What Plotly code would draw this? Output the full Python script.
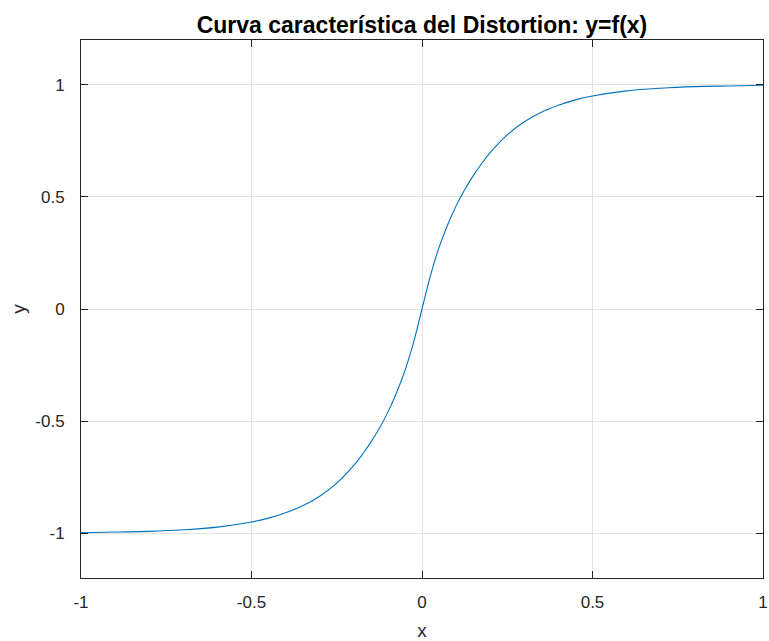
import plotly.graph_objects as go

# Characteristic transfer curve of the distortion stage, sampled points
x_vals = [-1.0, -0.9, -0.8, -0.7, -0.6, -0.5, -0.45, -0.4, -0.35, -0.3, -0.25,
          -0.2, -0.175, -0.15, -0.125, -0.1, -0.075, -0.05, -0.025, 0.0,
          0.025, 0.05, 0.075, 0.1, 0.125, 0.15, 0.175, 0.2, 0.25, 0.3, 0.35,
          0.4, 0.45, 0.5, 0.6, 0.7, 0.8, 0.9, 1.0]
y_vals = [-0.998, -0.995, -0.992, -0.985, -0.973, -0.950, -0.933, -0.909, -0.878,
          -0.835, -0.777, -0.698, -0.649, -0.594, -0.532, -0.460, -0.375, -0.275,
          -0.150, 0.0,
          0.150, 0.275, 0.375, 0.460, 0.532, 0.594, 0.649, 0.698, 0.777, 0.835,
          0.878, 0.909, 0.933, 0.950, 0.973, 0.985, 0.992, 0.995, 0.998]

tick_vals = [-1, -0.5, 0, 0.5, 1]
tick_text = ["-1", "-0.5", "0", "0.5", "1"]

AX = "#262626"
FONT = "Liberation Sans, Arial, Helvetica, sans-serif"

fig = go.Figure(go.Scatter(
    x=x_vals, y=y_vals, mode="lines",
    line=dict(color="#0072BD", width=1.1, shape="spline", smoothing=1.0),
    showlegend=False,
))

axis_common = dict(
    showline=True, linecolor=AX, linewidth=1, mirror="allticks",
    ticks="inside", ticklen=7, tickcolor=AX, tickwidth=1,
    showgrid=True, gridcolor="#e3e3e3", gridwidth=1, zeroline=False,
    tickfont=dict(family=FONT, size=17, color=AX),
    tickvals=tick_vals, ticktext=tick_text, automargin=False,
)

fig.update_xaxes(range=[-1, 1], title=dict(text="x", font=dict(family=FONT, size=19, color=AX), standoff=12),
                 ticklabelstandoff=9, **axis_common)
fig.update_yaxes(range=[-1.2, 1.2], title=dict(text="y", font=dict(family=FONT, size=19, color=AX), standoff=4),
                 ticklabelstandoff=12, **axis_common)

fig.update_layout(
    width=769, height=641,
    margin=dict(l=81, r=6, t=40, b=63),
    paper_bgcolor="white", plot_bgcolor="white",
    title=dict(text="<b>Curva característica del Distortion: y=f(x)</b>",
               font=dict(family=FONT, size=23, color="black"),
               x=0.5, xref="paper", xanchor="center",
               y=1 - 25 / 641, yref="container", yanchor="middle"),
)

fig.write_html("out.html")
